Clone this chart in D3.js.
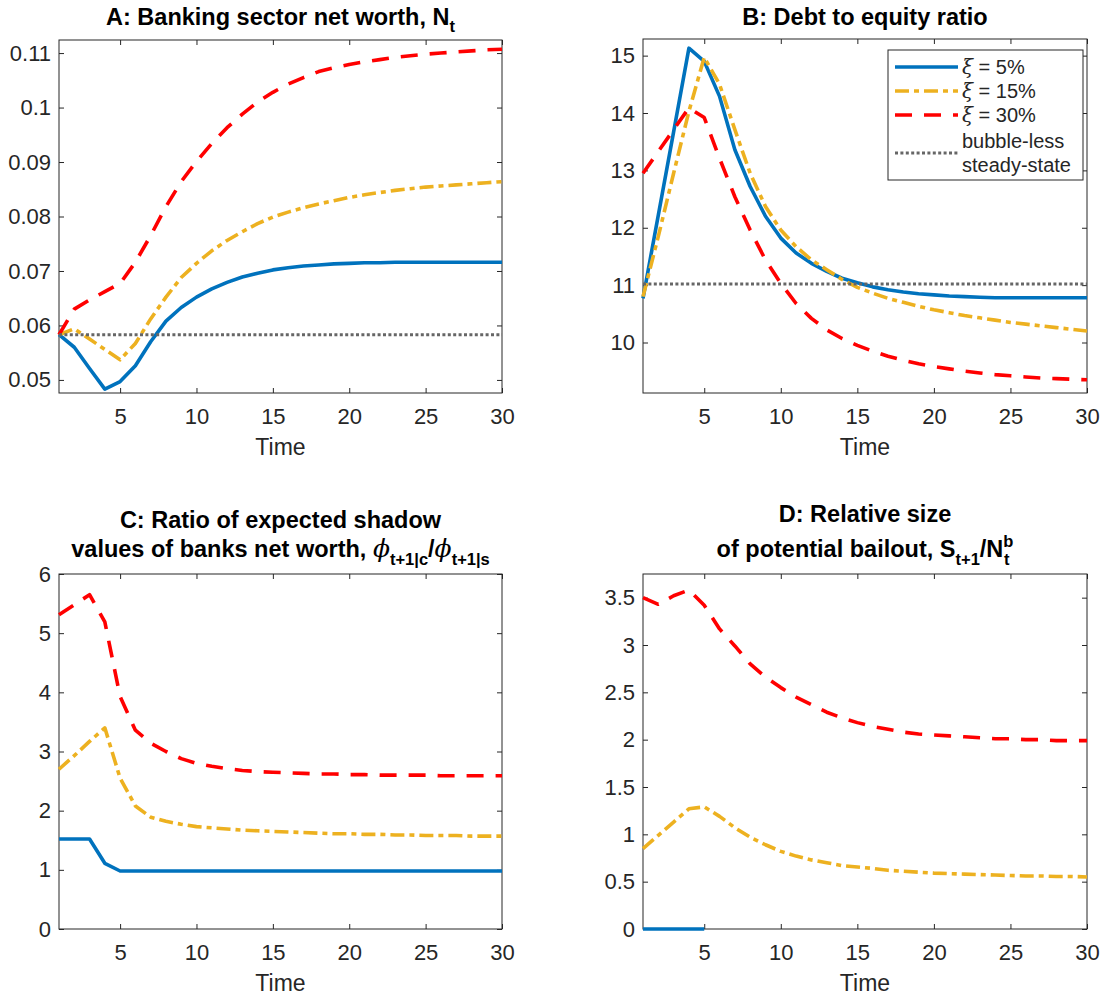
<!DOCTYPE html>
<html>
<head>
<meta charset="utf-8">
<script src="https://cdn.jsdelivr.net/npm/d3@7"></script>
<style>
  body { margin: 0; background: #fff; }
  svg text { font-family: "Liberation Sans", Arial, Helvetica, sans-serif; }
</style>
</head>
<body>
<svg id="fig" width="1102" height="998"></svg>
<script>
// ---- data -------------------------------------------------------------
const time = [1,2,3,4,5,6,7,8,9,10,11,12,13,14,15,16,17,18,19,20,21,22,23,24,25,26,27,28,29,30];
const xTicks = [5, 10, 15, 20, 25, 30];

// A: banking sector net worth
const netWorthXi5  = [0.0583,0.0560,0.0521,0.0483,0.0497,0.0526,0.0570,0.0608,0.0633,0.0652,0.0667,0.0679,0.0689,0.0696,0.0702,0.0706,0.0709,0.0711,0.0713,0.0714,0.0715,0.0715,0.0716,0.0716,0.0716,0.0716,0.0716,0.0716,0.0716,0.0716];
const netWorthXi15 = [0.0583,0.0594,0.0575,0.0556,0.0537,0.0567,0.0612,0.0652,0.0688,0.0714,0.0737,0.0756,0.0772,0.0787,0.0799,0.0808,0.0816,0.0823,0.0829,0.0835,0.0840,0.0844,0.0848,0.0851,0.0854,0.0856,0.0858,0.0860,0.0862,0.0864];
const netWorthXi30 = [0.0583,0.0630,0.0647,0.0662,0.0677,0.0716,0.0765,0.0818,0.0864,0.0901,0.0934,0.0963,0.0988,0.1010,0.1028,0.1043,0.1055,0.1066,0.1073,0.1079,0.1084,0.1088,0.1092,0.1095,0.1098,0.1100,0.1102,0.1104,0.1106,0.1107];
const netWorthSteady = 0.0583;
const netWorthTicks = [0.05, 0.06, 0.07, 0.08, 0.09, 0.10, 0.11];

// B: debt to equity ratio
const leverageXi5  = [10.77,12.22,13.67,15.13,14.90,14.29,13.36,12.72,12.20,11.82,11.56,11.38,11.24,11.12,11.04,10.97,10.92,10.88,10.85,10.83,10.81,10.80,10.79,10.78,10.78,10.78,10.78,10.78,10.78,10.78];
const leverageXi15 = [10.80,11.85,12.95,14.03,14.97,14.50,13.71,12.95,12.37,11.96,11.67,11.44,11.27,11.10,10.96,10.86,10.77,10.70,10.63,10.57,10.52,10.47,10.43,10.39,10.35,10.32,10.29,10.26,10.23,10.20];
const leverageXi30 = [12.95,13.33,13.71,14.09,13.92,13.21,12.54,11.96,11.44,11.03,10.68,10.42,10.22,10.07,9.95,9.85,9.76,9.69,9.63,9.58,9.54,9.50,9.47,9.44,9.42,9.40,9.38,9.37,9.36,9.35];
const leverageSteady = 11.02;
const leverageTicks = [10, 11, 12, 13, 14, 15];

// C: ratio of expected shadow values
const shadowXi5  = [1.52,1.52,1.52,1.11,0.98,0.98,0.98,0.98,0.98,0.98,0.98,0.98,0.98,0.98,0.98,0.98,0.98,0.98,0.98,0.98,0.98,0.98,0.98,0.98,0.98,0.98,0.98,0.98,0.98,0.98];
const shadowXi15 = [2.70,2.93,3.17,3.40,2.55,2.08,1.89,1.82,1.77,1.73,1.71,1.69,1.67,1.66,1.65,1.64,1.63,1.62,1.61,1.61,1.60,1.60,1.59,1.59,1.58,1.58,1.58,1.57,1.57,1.57];
const shadowXi30 = [5.31,5.48,5.65,5.19,3.93,3.36,3.14,3.00,2.88,2.80,2.75,2.71,2.68,2.66,2.65,2.64,2.63,2.62,2.62,2.61,2.61,2.60,2.60,2.60,2.60,2.59,2.59,2.59,2.59,2.59];
const shadowTicks = [0, 1, 2, 3, 4, 5, 6];

// D: relative size of potential bailout
const bailoutXi5  = [0, 0, 0, 0, 0];
const bailoutXi15 = [0.85,0.99,1.13,1.27,1.29,1.19,1.07,0.97,0.89,0.82,0.77,0.73,0.70,0.67,0.655,0.64,0.62,0.61,0.60,0.59,0.585,0.58,0.575,0.57,0.565,0.56,0.56,0.555,0.555,0.55];
const bailoutXi30 = [3.50,3.43,3.52,3.58,3.42,3.17,2.99,2.80,2.66,2.55,2.45,2.37,2.29,2.23,2.18,2.14,2.11,2.08,2.06,2.05,2.04,2.03,2.02,2.01,2.01,2.00,2.00,1.99,1.99,1.99];
const bailoutTicks = [0, 0.5, 1, 1.5, 2, 2.5, 3, 3.5];

const legendLabels = ["5%", "15%", "30%"];

// ---- styling ----------------------------------------------------------
const AXIS = "#262626";
const seriesStyle = [
  { color: "#0072BD", dash: null },
  { color: "#EDB120", dash: "14,5,5,5" },
  { color: "#FF0000", dash: "17,12" }
];
const LW = 3.6;
const TICK_FONT = 22;
const TITLE_FONT = 23.5;
const SUB_FONT = 16.5;

const svg = d3.select("#fig");

function drawPanel(p) {
  const g = svg.append("g");
  const x = d3.scaleLinear().domain([1, 30]).range([p.left, p.right]);
  const y = d3.scaleLinear().domain(p.yDomain).range([p.bottom, p.top]);

  g.append("rect").attr("x", p.left).attr("y", p.top)
    .attr("width", p.right - p.left).attr("height", p.bottom - p.top)
    .attr("fill", "#fff");

  const fmt = v => String(+v.toFixed(3));

  const axes = [
    { ax: d3.axisBottom(x).tickValues(xTicks).tickFormat(d3.format("d")).tickPadding(15), t: `translate(0,${p.bottom})` },
    { ax: d3.axisTop(x).tickValues(xTicks).tickFormat(""), t: `translate(0,${p.top})` },
    { ax: d3.axisLeft(y).tickValues(p.yTicks).tickFormat(fmt).tickPadding(8), t: `translate(${p.left},0)` },
    { ax: d3.axisRight(y).tickValues(p.yTicks).tickFormat(""), t: `translate(${p.right},0)` }
  ];
  axes.forEach(a => {
    const ag = g.append("g").attr("transform", a.t)
      .call(a.ax.tickSizeInner(-5).tickSizeOuter(0));
    ag.select(".domain").remove();
    ag.selectAll(".tick line").attr("stroke", AXIS).attr("stroke-width", 1);
    ag.selectAll(".tick text").attr("fill", AXIS).style("font-size", TICK_FONT + "px");
  });

  // frame
  g.append("rect").attr("x", p.left).attr("y", p.top)
    .attr("width", p.right - p.left).attr("height", p.bottom - p.top)
    .attr("fill", "none").attr("stroke", AXIS).attr("stroke-width", 1);

  // x label
  g.append("text").attr("x", (p.left + p.right) / 2).attr("y", p.bottom + 62)
    .attr("text-anchor", "middle").attr("fill", AXIS)
    .style("font-size", "23px").text("Time");

  const line = d3.line().x(d => x(d[0])).y(d => y(d[1]));

  p.series.forEach((vals, i) => {
    const pts = vals.map((v, k) => [time[k], v]);
    const st = seriesStyle[i];
    g.append("path").datum(pts).attr("d", line)
      .attr("fill", "none").attr("stroke", st.color)
      .attr("stroke-width", LW)
      .attr("stroke-linejoin", "round")
      .attr("stroke-dasharray", st.dash);
  });

  if (p.steady != null) {
    g.append("path").datum([[1, p.steady], [30, p.steady]]).attr("d", line)
      .attr("fill", "none").attr("stroke", "#666")
      .attr("stroke-width", 3).attr("stroke-dasharray", "3,2.4");
  }

  const cx = (p.left + p.right) / 2;
  p.title(g, cx);
  return { x, y };
}

function titleLine(g, cx, yBase, parts) {
  const t = g.append("text").attr("x", cx).attr("y", yBase)
    .attr("text-anchor", "middle").attr("fill", "#000")
    .style("font-size", TITLE_FONT + "px").style("font-weight", "bold");
  parts.forEach(pt => {
    const s = t.append("tspan").text(pt.text);
    if (pt.dy) s.attr("dy", pt.dy);
    if (pt.dx) s.attr("dx", pt.dx);
    if (pt.size) s.style("font-size", pt.size + "px");
    if (pt.italic) s.style("font-style", "italic").style("font-weight", "normal")
      .style("font-family", "'DejaVu Serif', serif");
  });
}

// A
drawPanel({
  left: 59, right: 502, top: 40, bottom: 393,
  yDomain: [0.0476, 0.1124], yTicks: netWorthTicks,
  series: [netWorthXi5, netWorthXi15, netWorthXi30], steady: netWorthSteady,
  title: (g, cx) => titleLine(g, cx, 25, [
    { text: "A: Banking sector net worth, N" },
    { text: "t", size: SUB_FONT, dy: 7 }
  ])
});

// B
drawPanel({
  left: 643, right: 1087, top: 39, bottom: 393,
  yDomain: [9.12, 15.29], yTicks: leverageTicks,
  series: [leverageXi5, leverageXi15, leverageXi30], steady: leverageSteady,
  title: (g, cx) => titleLine(g, cx, 25, [{ text: "B: Debt to equity ratio" }])
});

// C
drawPanel({
  left: 59, right: 502, top: 574, bottom: 929,
  yDomain: [0, 6], yTicks: shadowTicks,
  series: [shadowXi5, shadowXi15, shadowXi30], steady: null,
  title: (g, cx) => {
    titleLine(g, cx, 528, [{ text: "C: Ratio of expected shadow" }]);
    titleLine(g, cx, 557, [
      { text: "values of banks net worth, " },
      { text: "\u03D5", italic: true, size: 25 },
      { text: "t+1|c", size: SUB_FONT, dy: 8 },
      { text: "/", dy: -8 },
      { text: "\u03D5", italic: true, size: 25 },
      { text: "t+1|s", size: SUB_FONT, dy: 8 }
    ]);
  }
});

// D
drawPanel({
  left: 643, right: 1087, top: 574, bottom: 929,
  yDomain: [0, 3.75], yTicks: bailoutTicks,
  series: [bailoutXi5, bailoutXi15, bailoutXi30], steady: null,
  title: (g, cx) => {
    titleLine(g, cx, 522, [{ text: "D: Relative size" }]);
    titleLine(g, cx, 557, [
      { text: "of potential bailout, S" },
      { text: "t+1", size: SUB_FONT, dy: 8 },
      { text: "/N", dy: -8 },
      { text: "b", size: SUB_FONT, dy: -10 },
      { text: "t", size: SUB_FONT, dx: -9.5, dy: 18 }
    ]);
  }
});

// legend in panel B
(function legend() {
  const lg = svg.append("g");
  const bx = 888, by = 50, bw = 195, bh = 130;
  lg.append("rect").attr("x", bx).attr("y", by).attr("width", bw).attr("height", bh)
    .attr("fill", "#fff").attr("stroke", AXIS).attr("stroke-width", 1);
  const rows = [67, 91, 115];
  legendLabels.forEach((lab, i) => {
    const st = seriesStyle[i];
    lg.append("line").attr("x1", 895).attr("x2", 958).attr("y1", rows[i]).attr("y2", rows[i])
      .attr("stroke", st.color).attr("stroke-width", LW).attr("stroke-dasharray", st.dash);
    const t = lg.append("text").attr("x", 962).attr("y", rows[i] + 7)
      .attr("fill", AXIS).style("font-size", "20px");
    t.append("tspan").text("\u03BE").style("font-style", "italic")
      .style("font-family", "'DejaVu Serif', serif");
    t.append("tspan").text(" = " + lab);
  });
  lg.append("line").attr("x1", 895).attr("x2", 958).attr("y1", 153).attr("y2", 153)
    .attr("stroke", "#666").attr("stroke-width", 3).attr("stroke-dasharray", "3,2.4");
  lg.append("text").attr("x", 962).attr("y", 148).attr("fill", AXIS)
    .style("font-size", "20px").text("bubble-less");
  lg.append("text").attr("x", 962).attr("y", 172).attr("fill", AXIS)
    .style("font-size", "20px").text("steady-state");
})();
</script>
</body>
</html>
